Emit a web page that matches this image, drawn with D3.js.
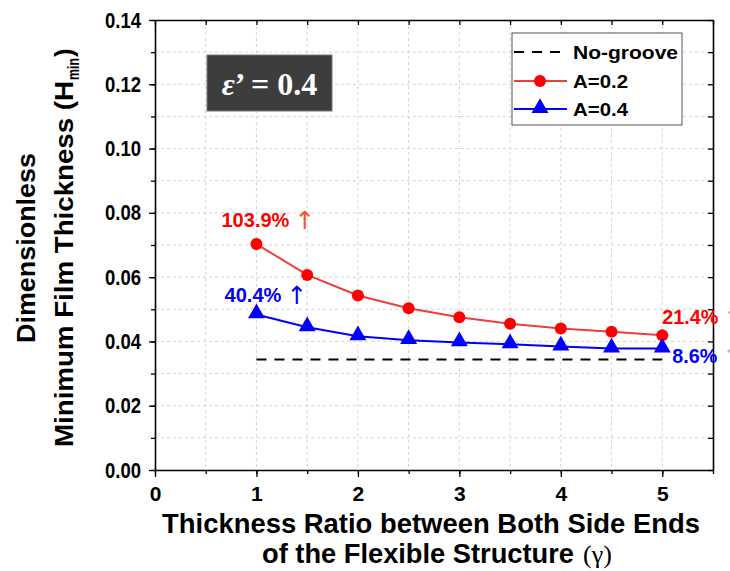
<!DOCTYPE html>
<html>
<head>
<meta charset="utf-8">
<script src="https://cdn.jsdelivr.net/npm/d3@7"></script>
<style>
  body { margin: 0; background: #fff; }
  svg { display: block; font-family: Arial, "Liberation Sans", sans-serif; }
</style>
</head>
<body>
<div class="chart"></div>
<script>
// thickness ratio (gamma)
let gammas = [1, 1.5, 2, 2.5, 3, 3.5, 4, 4.5, 5];
let hminA02 = [0.0703, 0.0607, 0.0543, 0.0503, 0.0475, 0.0455, 0.0440, 0.0430, 0.0419];
let hminA04 = [0.0484, 0.0444, 0.0416, 0.0404, 0.0397, 0.0391, 0.0384, 0.0378, 0.0378];
let hminNoGroove = [0.0344, 0.0344];
let noGrooveX = [1, 5];
let xTicks = [0, 1, 2, 3, 4, 5];
let yTicks = [0, 0.02, 0.04, 0.06, 0.08, 0.10, 0.12, 0.14];
let legendLabels = ["No-groove", "A=0.2", "A=0.4"];
let annoTexts = ["103.9%", "40.4%", "21.4%", "8.6%"];

let outerWidth = 730, outerHeight = 571;
let margin = {top: 20, right: 17, bottom: 101, left: 155};
let width = outerWidth - margin.left - margin.right, height = outerHeight - margin.top - margin.bottom;

let svg = d3.select('.chart').append('svg')
    .attr('width', outerWidth)
    .attr('height', outerHeight);
let g = svg.append('g').attr('transform', `translate(${margin.left},${margin.top})`);

const xScale = d3.scaleLinear().domain([0, 5.5]).range([0, width]);
const yScale = d3.scaleLinear().domain([0, 0.14]).range([height, 0]);

let halfSteps = d3.range(0, 5.51, 0.5);
let hundredths = d3.range(0, 0.1401, 0.01);

// grid
g.append('g').selectAll('line.vg')
  .data(halfSteps.filter(d => d > 0 && d < 5.5))
  .enter().append('line')
  .attr('x1', d => xScale(d)).attr('x2', d => xScale(d))
  .attr('y1', 0).attr('y2', height)
  .attr('stroke', '#d4d4d4').attr('stroke-dasharray', '3,3');
g.append('g').selectAll('line.hg')
  .data(hundredths.filter(d => d > 0.001 && d < 0.139))
  .enter().append('line')
  .attr('x1', 0).attr('x2', width)
  .attr('y1', d => yScale(d)).attr('y2', d => yScale(d))
  .attr('stroke', '#d4d4d4').attr('stroke-dasharray', '3,3');

// axes
function styleAxis(sel) {
  sel.selectAll('path').attr('stroke', '#000').attr('stroke-width', 1.6);
  sel.selectAll('line').attr('stroke', '#000').attr('stroke-width', 1.3);
}

g.append('g').attr('transform', `translate(0,${height})`)
  .call(d3.axisBottom(xScale).tickValues(halfSteps).tickSize(4).tickFormat('').tickSizeOuter(0))
  .call(styleAxis);
g.append('g').attr('transform', `translate(0,${height})`)
  .call(d3.axisBottom(xScale).tickValues(xTicks).tickSize(7).tickPadding(9).tickFormat(d3.format('d')).tickSizeOuter(0))
  .call(styleAxis)
  .call(a => a.select('.domain').remove())
  .selectAll('text').attr('font-size', 21).attr('font-weight', 'bold').attr('fill', '#000');

g.append('g')
  .call(d3.axisLeft(yScale).tickValues(hundredths).tickSize(4).tickFormat('').tickSizeOuter(0))
  .call(styleAxis);
g.append('g')
  .call(d3.axisLeft(yScale).tickValues(yTicks).tickSize(6).tickPadding(8).tickFormat(d3.format('.2f')).tickSizeOuter(0))
  .call(styleAxis)
  .call(a => a.select('.domain').remove())
  .selectAll('text').attr('font-size', 22).attr('font-weight', 'bold').attr('fill', '#000')
  .attr('textLength', 36).attr('lengthAdjust', 'spacingAndGlyphs');

g.append('g')
  .call(d3.axisTop(xScale).tickValues(halfSteps).tickSize(-5).tickFormat('').tickSizeOuter(0))
  .call(styleAxis);
g.append('g').attr('transform', `translate(${width},0)`)
  .call(d3.axisRight(yScale).tickValues(hundredths).tickSize(-5).tickFormat('').tickSizeOuter(0))
  .call(styleAxis);

// no-groove reference
let ngData = noGrooveX.map((x, i) => ({x: x, y: hminNoGroove[i]}));
g.append('path')
  .datum(ngData)
  .attr('fill', 'none').attr('stroke', '#000').attr('stroke-width', 2)
  .attr('stroke-dasharray', '10,8')
  .attr('d', d3.line().x(d => xScale(d.x)).y(d => yScale(d.y)));

let redData = gammas.map((x, i) => ({x: x, y: hminA02[i]}));
let blueData = gammas.map((x, i) => ({x: x, y: hminA04[i]}));
let lineGen = d3.line().x(d => xScale(d.x)).y(d => yScale(d.y));

g.append('path').datum(redData)
  .attr('fill', 'none').attr('stroke', '#f03c3c').attr('stroke-width', 2)
  .attr('d', lineGen);
g.selectAll('circle.red').data(redData).enter().append('circle')
  .attr('cx', d => xScale(d.x)).attr('cy', d => yScale(d.y))
  .attr('r', 6).attr('fill', '#ff0000');

g.append('path').datum(blueData)
  .attr('fill', 'none').attr('stroke', '#0000ff').attr('stroke-width', 2)
  .attr('d', lineGen);
let tri = d3.symbol().type(d3.symbolTriangle).size(125);
g.selectAll('path.blue').data(blueData).enter().append('path')
  .attr('d', tri)
  .attr('transform', d => `translate(${xScale(d.x)},${yScale(d.y) - 1})`)
  .attr('fill', '#0000ff');

// percentage annotations
let annos = [
  {t: annoTexts[0], p: redData[0], dx: -35, dy: -17, w: 68, c: '#ff0000', ac: '#f2552c'},
  {t: annoTexts[1], p: blueData[0], dx: -32, dy: -12, w: 57, c: '#0000ff', ac: '#0000ff'},
  {t: annoTexts[2], p: redData[8], dx: 0, dy: -11, w: 56, c: '#ff0000', ac: '#f08a8a'},
  {t: annoTexts[3], p: blueData[8], dx: 10, dy: 14, w: 45, c: '#0000ff', ac: '#b9a4f0'}
];
annos.forEach(a => {
  let x0 = xScale(a.p.x) + a.dx, y0 = yScale(a.p.y) + a.dy;
  g.append('text')
    .attr('x', x0).attr('y', y0)
    .attr('font-size', 20).attr('font-weight', 'bold').attr('fill', a.c)
    .attr('textLength', a.w).attr('lengthAdjust', 'spacingAndGlyphs')
    .text(a.t);
  g.append('text')
    .attr('x', x0 + a.w + 5).attr('y', y0 + 2)
    .attr('font-family', '"DejaVu Sans", sans-serif')
    .attr('font-size', 25).attr('fill', a.ac)
    .text('\u2191');
});

// epsilon box
svg.append('rect')
  .attr('x', 207).attr('y', 55).attr('width', 125).attr('height', 56)
  .attr('fill', '#3d3d3d').attr('stroke', '#777').attr('stroke-width', 1);
svg.append('text')
  .attr('x', 269.5).attr('y', 95).attr('text-anchor', 'middle')
  .attr('font-family', '"Times New Roman", "Liberation Serif", serif')
  .attr('font-size', 32).attr('font-weight', 'bold').attr('fill', '#fff')
  .html('<tspan font-style="italic">\u03b5</tspan>\u2019 = 0.4');

// legend
let legend = svg.append('g').attr('transform', 'translate(512,33)');
legend.append('rect')
  .attr('width', 170).attr('height', 92)
  .attr('fill', '#fff').attr('stroke', '#555').attr('stroke-width', 1);
let legY = [19, 48, 76];
let legW = [105, 55, 55];
legend.append('line').attr('x1', 2).attr('x2', 55).attr('y1', legY[0]).attr('y2', legY[0])
  .attr('stroke', '#000').attr('stroke-width', 2).attr('stroke-dasharray', '10,8');
legend.append('line').attr('x1', 2).attr('x2', 55).attr('y1', legY[1]).attr('y2', legY[1])
  .attr('stroke', '#f03c3c').attr('stroke-width', 2);
legend.append('circle').attr('cx', 28).attr('cy', legY[1]).attr('r', 6).attr('fill', '#ff0000');
legend.append('line').attr('x1', 2).attr('x2', 55).attr('y1', legY[2]).attr('y2', legY[2])
  .attr('stroke', '#0000ff').attr('stroke-width', 2);
legend.append('path').attr('d', tri).attr('transform', `translate(28,${legY[2] - 1})`).attr('fill', '#0000ff');
legend.selectAll('text.leg').data(legendLabels).enter().append('text')
  .attr('x', 61).attr('y', (d, i) => legY[i] + 7)
  .attr('font-size', 19).attr('font-weight', 'bold').attr('fill', '#000')
  .attr('textLength', (d, i) => legW[i]).attr('lengthAdjust', 'spacingAndGlyphs')
  .text(d => d);

// axis titles
svg.append('text')
  .attr('x', 431).attr('y', 533).attr('text-anchor', 'middle')
  .attr('font-size', 28).attr('font-weight', 'bold')
  .attr('textLength', 538).attr('lengthAdjust', 'spacingAndGlyphs')
  .text('Thickness Ratio between Both Side Ends');
svg.append('text')
  .attr('x', 262).attr('y', 563)
  .attr('font-size', 28).attr('font-weight', 'bold')
  .attr('textLength', 312).attr('lengthAdjust', 'spacingAndGlyphs')
  .text('of the Flexible Structure');
svg.append('text')
  .attr('x', 583).attr('y', 563)
  .attr('font-family', '"Times New Roman", "Liberation Serif", serif')
  .attr('font-size', 26)
  .text('(\u03b3)');

let yTitle = svg.append('g').attr('transform', 'translate(0,248) rotate(-90)');
yTitle.append('text')
  .attr('x', 0).attr('y', 35).attr('text-anchor', 'middle')
  .attr('font-size', 25).attr('font-weight', 'bold')
  .attr('textLength', 190).attr('lengthAdjust', 'spacingAndGlyphs')
  .text('Dimensionless');
yTitle.append('text')
  .attr('x', -199).attr('y', 73)
  .attr('font-size', 26).attr('font-weight', 'bold')
  .attr('textLength', 366).attr('lengthAdjust', 'spacingAndGlyphs')
  .text('Minimum Film Thickness (H');
yTitle.append('text')
  .attr('x', 168).attr('y', 79)
  .attr('font-size', 16).attr('font-weight', 'bold')
  .attr('textLength', 22).attr('lengthAdjust', 'spacingAndGlyphs')
  .text('min');
yTitle.append('text')
  .attr('x', 191).attr('y', 73)
  .attr('font-size', 26).attr('font-weight', 'bold')
  .text(')');
</script>
</body>
</html>
